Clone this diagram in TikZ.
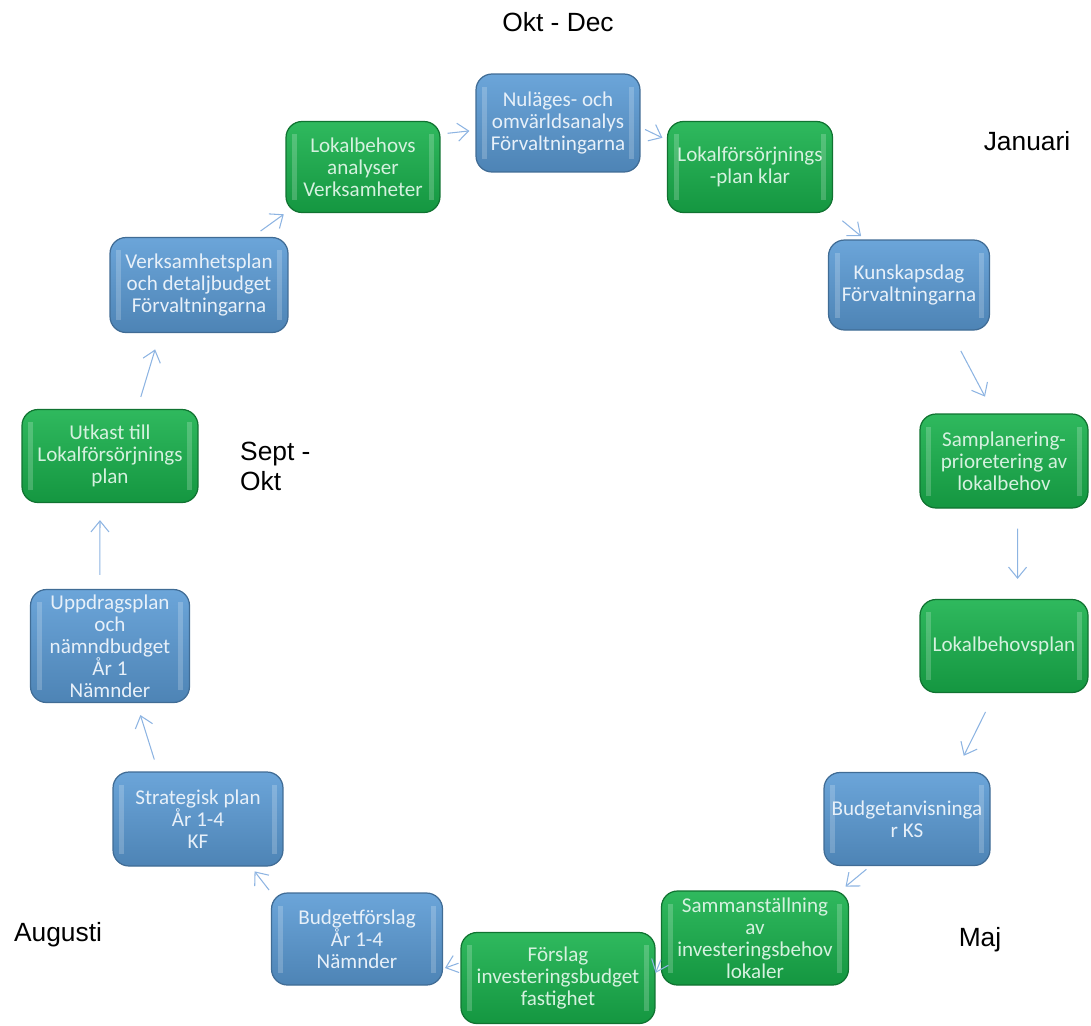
\documentclass[tikz,border=0pt]{standalone}
\usepackage{fontspec}
\newfontfamily\boxfont{Carlito}
\newfontfamily\labelfont{Liberation Sans}
\usetikzlibrary{arrows.meta}
\definecolor{boxblue}{RGB}{91,155,213}
\definecolor{boxgreen}{RGB}{24,177,76}
\definecolor{arrowblue}{RGB}{141,180,226}

\begin{document}
\begin{tikzpicture}[x=0.02cm, y=-0.02cm,
    box/.style={rounded corners=0.32cm, align=center, inner sep=0pt, line width=0.7pt,
        font=\boxfont\fontsize{12}{12.5}\selectfont,
        path picture={
            \fill[white, opacity=0.2, sharp corners] ([shift={(0.12cm,-0.25cm)}]path picture bounding box.north west) rectangle ([shift={(0.22cm,0.25cm)}]path picture bounding box.south west);
            \fill[white, opacity=0.2, sharp corners] ([shift={(-0.12cm,-0.25cm)}]path picture bounding box.north east) rectangle ([shift={(-0.22cm,0.25cm)}]path picture bounding box.south east);}},
    bluebox/.style={box, draw=boxblue!70!black, top color=boxblue!90!white, bottom color=boxblue!85!black, text=white!85!boxblue},
    greenbox/.style={box, draw=boxgreen!65!black, top color=boxgreen!90!white, bottom color=boxgreen!85!black, text=white!82!boxgreen},
    season/.style={font=\labelfont\fontsize{15}{17}\selectfont},
    flow/.style={draw=arrowblue, line width=0.6pt, -{Straight Barb[length=2.2mm,width=3.6mm]}}]

    \useasboundingbox (0,0) rectangle (1091,1025);

    \node[bluebox, minimum width=3.28cm, minimum height=1.96cm] (nul) at (558,123) {Nuläges- och\\omvärldsanalys\\Förvaltningarna};
    \node[greenbox, minimum width=3.3cm, minimum height=1.82cm] (lfp) at (750,167) {Lokalförsörjnings\\-plan klar};
    \node[bluebox, minimum width=3.22cm, minimum height=1.8cm] (kun) at (909,285) {Kunskapsdag\\Förvaltningarna};
    \node[greenbox, minimum width=3.36cm, minimum height=1.88cm] (sam) at (1004,461) {Samplanering-\\prioretering av\\lokalbehov};
    \node[greenbox, minimum width=3.36cm, minimum height=1.86cm] (lbp) at (1004,646) {Lokalbehovsplan};
    \node[bluebox, minimum width=3.32cm, minimum height=1.86cm] (bud) at (907,819) {Budgetanvisninga\\r KS};
    \node[greenbox, minimum width=3.74cm, minimum height=1.88cm] (smst) at (755,938) {Sammanställning\\av\\investeringsbehov\\lokaler};
    \node[greenbox, minimum width=3.88cm, minimum height=1.82cm] (fors) at (558,978) {Förslag\\investeringsbudget\\fastighet};
    \node[bluebox, minimum width=3.42cm, minimum height=1.84cm] (bfor) at (357,939) {Budgetförslag\\År 1-4\\Nämnder};
    \node[bluebox, minimum width=3.4cm, minimum height=1.88cm] (strat) at (198,819) {Strategisk plan\\År 1-4\\KF};
    \node[bluebox, minimum width=3.18cm, minimum height=2.26cm] (upp) at (110,646) {Uppdragsplan\\och\\nämndbudget\\År 1\\Nämnder};
    \node[greenbox, minimum width=3.52cm, minimum height=1.86cm] (utk) at (110,456) {Utkast till\\Lokalförsörjnings\\plan};
    \node[bluebox, minimum width=3.56cm, minimum height=1.9cm] (vp) at (199,285) {Verksamhetsplan\\och detaljbudget\\Förvaltningarna};
    \node[greenbox, minimum width=3.08cm, minimum height=1.82cm] (lba) at (363,167) {Lokalbehovs\\analyser\\Verksamheter};

    \node[season] (okt) at (558,22) {Okt - Dec};
    \node[season] (jan) at (1027,141) {Januari};
    \node[season, align=left, anchor=west] (sept) at (234,466) {Sept -\\Okt};
    \node[season] (aug) at (58,935) {Augusti};
    \node[season] (maj) at (980,940) {Maj};

    \draw[flow, shorten <=0.14cm, shorten >=0.12cm] (lba.23) -- (nul.185);
    \draw[flow, shorten <=0.1cm, shorten >=0.1cm] (nul.-3.5) -- (lfp.162);
    \draw[flow, shorten <=0.24cm, shorten >=0.1cm] (lfp.south east) -- (kun.134);
    \draw[flow, shorten <=0.46cm, shorten >=0.38cm] (kun.-48) -- (sam.102);
    \draw[flow, shorten <=0.4cm, shorten >=0.4cm] (sam.-74.5) -- (lbp.74.2);
    \draw[flow, shorten <=0.42cm, shorten >=0.36cm] (lbp.-101) -- (bud.44);
    \draw[flow, shorten <=0.1cm, shorten >=0.12cm] (bud.-128) -- (smst.29);
    \draw[flow] (smst.193) -- (fors.3.5);
    \draw[flow, shorten <=0.04cm, shorten >=0.04cm] (fors.171) -- (bfor.-19.8);
    \draw[flow, shorten <=0.06cm, shorten >=0.12cm] (bfor.north west) -- (strat.-42);
    \draw[flow, shorten <=0.25cm, shorten >=0.25cm] (strat.130) -- (upp.-65.5);
    \draw[flow, shorten <=0.28cm, shorten >=0.34cm] (upp.100) -- (utk.-102);
    \draw[flow, shorten <=0.25cm, shorten >=0.34cm] (utk.60.5) -- (vp.-129);
    \draw[flow, shorten <=0.2cm, shorten >=0.04cm] (vp.42.7) -- (lba.south west);
\end{tikzpicture}
\end{document}
